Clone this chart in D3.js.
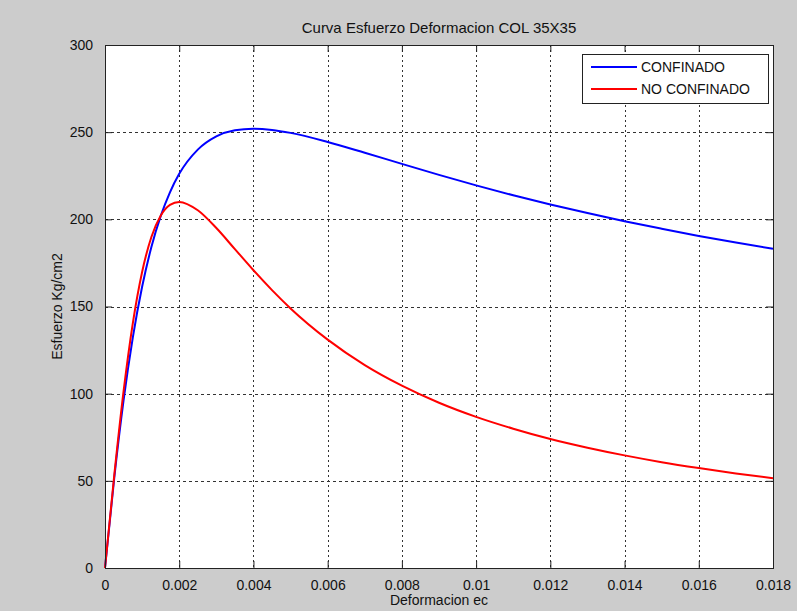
<!DOCTYPE html>
<html>
<head>
<meta charset="utf-8">
<script src="https://cdn.jsdelivr.net/npm/d3@7"></script>
<style>
	body { margin: 0; background: #cccccc; }
	svg { display: block; font-family: Arial, "Liberation Sans", sans-serif; }
</style>
</head>
<body>
<svg id="chart" width="797" height="611"></svg>
<script>
	// deformacion unitaria
	var strain = [ 0, 0.00025, 0.0005, 0.00075, 0.001, 0.00125, 0.0015, 0.00175, 0.002, 0.0025, 0.003, 0.0035,
			0.004, 0.0045, 0.005, 0.006, 0.007, 0.008, 0.009, 0.01, 0.011, 0.012, 0.013, 0.014, 0.015, 0.016,
			0.017, 0.018 ];

	// esfuerzo kg/cm2
	var confinado = [ 0, 51.8, 96.1, 132.3, 161.3, 184.1, 201.8, 215.5, 226.1, 240.0, 247.6, 251.1, 252.0,
			251.3, 249.6, 244.4, 238.2, 231.8, 225.5, 219.5, 213.8, 208.5, 203.6, 198.9, 194.6, 190.5, 186.7,
			183.1 ];
	var noConfinado = [ 0, 53.3, 101.3, 140.5, 169.8, 189.9, 202.1, 208.3, 210.0, 205.2, 195.0, 182.9, 170.8,
			159.4, 148.9, 131.0, 116.4, 104.6, 94.8, 86.7, 79.9, 74.0, 69.0, 64.6, 60.7, 57.3, 54.2, 51.5 ];

	var xTicks = [ 0, 0.002, 0.004, 0.006, 0.008, 0.01, 0.012, 0.014, 0.016, 0.018 ];
	var yTicks = [ 0, 50, 100, 150, 200, 250, 300 ];

	var series = [ {
		name : "CONFINADO",
		color : "#0000ff",
		values : confinado
	}, {
		name : "NO CONFINADO",
		color : "#ff0000",
		values : noConfinado
	} ];

	(function() {
		var x0 = 105, x1 = 773, y0 = 45, y1 = 568;
		var svg = d3.select("#chart");

		var x = d3.scaleLinear().domain([ 0, 0.018 ]).range([ x0, x1 ]);
		var y = d3.scaleLinear().domain([ 0, 300 ]).range([ y1, y0 ]);

		svg.append("rect")//
		.attr("x", x0).attr("y", y0)//
		.attr("width", x1 - x0).attr("height", y1 - y0)//
		.attr("fill", "#ffffff");

		// grid
		svg.append("g").selectAll("line").data(xTicks.slice(1, -1)).enter().append("line")//
		.attr("x1", function(d) { return Math.round(x(d)) + 0.5; })//
		.attr("x2", function(d) { return Math.round(x(d)) + 0.5; })//
		.attr("y1", y0).attr("y2", y1)//
		.attr("stroke", "#333").attr("stroke-dasharray", "2,3");

		svg.append("g").selectAll("line").data(yTicks.slice(1, -1)).enter().append("line")//
		.attr("y1", function(d) { return Math.round(y(d)) + 0.5; })//
		.attr("y2", function(d) { return Math.round(y(d)) + 0.5; })//
		.attr("x1", x0).attr("x2", x1)//
		.attr("stroke", "#333").attr("stroke-dasharray", "3,3");

		// curvas
		var line = d3.line().curve(d3.curveMonotoneX)//
		.x(function(d, i) { return x(strain[i]); })//
		.y(function(d) { return y(d); });

		svg.append("g").selectAll("path").data(series).enter().append("path")//
		.attr("d", function(d) { return line(d.values); })//
		.attr("fill", "none")//
		.attr("stroke", function(d) { return d.color; })//
		.attr("stroke-width", 2);

		// ejes con ticks hacia adentro
		var tickLen = 7;
		var axisColor = "#222";

		svg.append("g").attr("transform", "translate(0," + y1 + ")")//
		.call(d3.axisBottom(x).tickValues(xTicks).tickSize(-tickLen).tickPadding(tickLen + 5)//
		.tickFormat(function(d) { return d == 0 ? "0" : String(+d.toFixed(3)); }));

		svg.append("g").attr("transform", "translate(0," + y0 + ")")//
		.call(d3.axisTop(x).tickValues(xTicks).tickSize(-tickLen).tickFormat(""));

		svg.append("g").attr("transform", "translate(" + x0 + ",0)")//
		.call(d3.axisLeft(y).tickValues(yTicks).tickSize(-tickLen).tickPadding(tickLen + 5));

		svg.append("g").attr("transform", "translate(" + x1 + ",0)")//
		.call(d3.axisRight(y).tickValues(yTicks).tickSize(-tickLen).tickFormat(""));

		svg.selectAll(".domain").remove();
		svg.selectAll(".tick line").attr("stroke", axisColor);
		svg.selectAll(".tick text").attr("fill", "#111").style("font-size", "14px").style("font-family",
				"Arial, 'Liberation Sans', sans-serif");

		svg.append("rect")//
		.attr("x", x0 + 0.5).attr("y", y0 + 0.5)//
		.attr("width", x1 - x0).attr("height", y1 - y0)//
		.attr("fill", "none").attr("stroke", axisColor);

		// textos
		svg.append("text").attr("x", (x0 + x1) / 2).attr("y", 33)//
		.attr("text-anchor", "middle").style("font-size", "15px").attr("fill", "#111")//
		.text("Curva Esfuerzo Deformacion COL 35X35");

		svg.append("text").attr("x", (x0 + x1) / 2).attr("y", 605)//
		.attr("text-anchor", "middle").style("font-size", "14px").attr("fill", "#111")//
		.text("Deformacion ec");

		svg.append("text").attr("transform", "translate(62," + (y0 + y1) / 2 + ") rotate(-90)")//
		.attr("text-anchor", "middle").style("font-size", "14px").attr("fill", "#111")//
		.text("Esfuerzo Kg/cm2");

		// leyenda
		var legend = svg.append("g");
		legend.append("rect")//
		.attr("x", 582.5).attr("y", 54.5).attr("width", 186).attr("height", 49)//
		.attr("fill", "#ffffff").attr("stroke", axisColor);

		var item = legend.selectAll(".item").data(series).enter().append("g")//
		.attr("class", "item")//
		.attr("transform", function(d, i) { return "translate(0," + (67 + i * 22) + ")"; });

		item.append("line")//
		.attr("x1", 591).attr("x2", 637)//
		.attr("stroke", function(d) { return d.color; })//
		.attr("stroke-width", 2);

		item.append("text")//
		.attr("x", 641).attr("dy", "0.35em")//
		.style("font-size", "14px").attr("fill", "#111")//
		.text(function(d) { return d.name; });
	})();
</script>
</body>
</html>
